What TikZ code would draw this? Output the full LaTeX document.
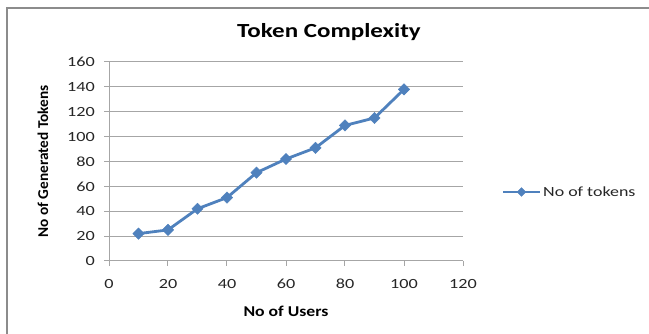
\documentclass[tikz,border=0pt]{standalone}
\usepackage{fontspec}
\setmainfont{Carlito}
\newfontfamily\tickfont{Carlito}[FakeStretch=1.3]
\newfontfamily\titlefont{Carlito}[FakeStretch=1.25]
\newfontfamily\xlabfont{Carlito}[FakeStretch=1.18]
\newfontfamily\ylabfont{Carlito}[FakeStretch=1.02]
\newfontfamily\legfont{Carlito}[FakeStretch=1.28]
\usetikzlibrary{shapes.geometric}
\definecolor{series}{HTML}{4F81BD}
\definecolor{gridc}{HTML}{A6A6A6}
\definecolor{framec}{HTML}{8C8C8C}
\begin{document}
\begin{tikzpicture}[x=1pt,y=-1pt,
  gridline/.style={draw=gridc,line width=1pt},
  ticklbl/.style={font=\tickfont\fontsize{14}{16}\selectfont,text=black!85,inner sep=0pt},
  mk/.style={diamond,fill=series,draw=series,inner sep=0pt,minimum width=11.5pt,minimum height=11.5pt},
  serline/.style={draw=series,line width=2.8pt,line join=round}]
\useasboundingbox (0,0) rectangle (649,334);
\fill[white] (0,0) rectangle (649,334);
% frame
\draw[framec,line width=1.5pt] (7,334) -- (7,8) -- (649,8);
% title
\node[font=\titlefont\fontsize{20}{22}\selectfont\bfseries,inner sep=0pt] (title) at (329,32) {Token Complexity};
% grid: x0=109, x120=463, y0=261, y160=62
\foreach \v in {0,20,...,160}{
  \pgfmathsetmacro{\yy}{261-\v/160*199}
  \draw[gridline] (104,\yy) -- (463,\yy);
  \node[ticklbl,anchor=east] (yl\v) at (95,\yy) {\v};
}
\draw[gridline] (109,62) -- (109,266);
\foreach \v in {0,20,...,120}{
  \pgfmathsetmacro{\xx}{109+\v/120*354}
  \draw[gridline] (\xx,261) -- (\xx,266);
  \node[ticklbl,anchor=center] (xl\v) at (\xx,284) {\v};
}
% axis titles
\node[font=\ylabfont\fontsize{15}{17}\selectfont\bfseries,inner sep=0pt,rotate=90] (ytitle) at (43,161.5) {No of Generated Tokens};
\node[font=\xlabfont\fontsize{15}{17}\selectfont\bfseries,inner sep=0pt] (xtitle) at (286,311) {No of Users};
% data
\foreach \i/\x/\y in {1/10/22,2/20/25,3/30/42,4/40/51,5/50/71,6/60/82,7/70/91,8/80/109,9/90/115,10/100/138}{
  \coordinate (p\i) at ({109+\x/120*354},{261-\y/160*199});
}
\draw[serline] (p1) -- (p2) -- (p3) -- (p4) -- (p5) -- (p6) -- (p7) -- (p8) -- (p9) -- (p10);
\foreach \i in {1,...,10}{ \node[mk] (m\i) at (p\i) {}; }
% legend
\coordinate (la) at (503,192);
\coordinate (lb) at (540,192);
\draw[serline] (la) -- (lb);
\node[mk,minimum width=9pt,minimum height=9pt] (lm) at (521.5,192) {};
\node[font=\legfont\fontsize{14}{16}\selectfont,text=black!85,anchor=west,inner sep=0pt] (ltext) at (543,192) {No of tokens};
\end{tikzpicture}
\end{document}
